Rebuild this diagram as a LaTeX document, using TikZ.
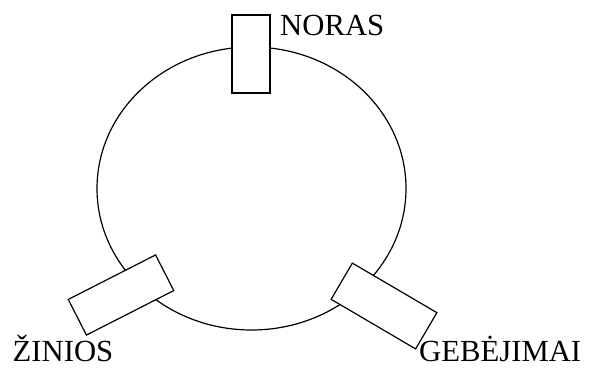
\documentclass[tikz,border=0pt]{standalone}
\usepackage{fontspec}
\setmainfont{Liberation Serif}
\usepackage{tikz}
\usetikzlibrary{shapes.geometric}

\begin{document}
\begin{tikzpicture}[
    x=1pt,y=-1pt,
    ring/.style={draw,line width=1.2pt,ellipse,inner sep=0pt,minimum width=309pt,minimum height=283pt},
    tab/.style={draw,line width=1.2pt,fill=white,inner sep=0pt,minimum width=98pt,minimum height=40pt},
    lbl/.style={inner sep=0pt,anchor=base west,font=\fontsize{30.7}{36}\selectfont}
]
\useasboundingbox (0,0) rectangle (591,367);

\node[ring] (circ) at (251.5,188.5) {};

\node[tab,minimum width=38pt,minimum height=78pt] (topbox) at (251,54) {};
\node[tab,rotate=27] (leftbox) at (121,295) {};
\node[tab,rotate=-30.4,minimum height=42pt] (rightbox) at (384,306) {};

\node[lbl] (noras) at (280,35) {NORAS};
\node[lbl] (zinios) at (12.5,361.5) {ŽINIOS};
\node[lbl] (gebejimai) at (419,361.5) {GEBĖJIMAI};
\end{tikzpicture}
\end{document}
